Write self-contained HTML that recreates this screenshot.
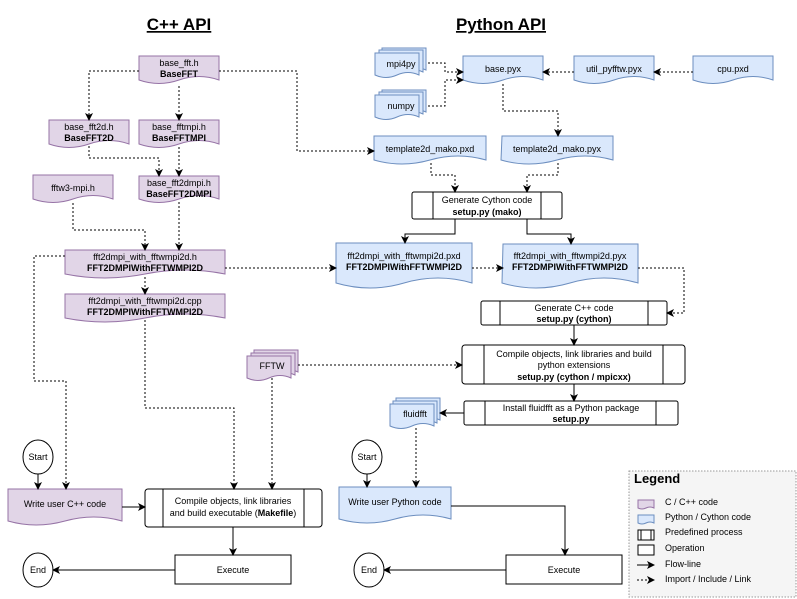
<!DOCTYPE html>
<html><head><meta charset="utf-8"><style>
html,body{margin:0;padding:0;background:#fff;}
svg{display:block;font-family:"Liberation Sans",sans-serif;}
</style></head><body>
<svg width="797" height="599" viewBox="0 0 797 599" xmlns="http://www.w3.org/2000/svg">
<defs>
<marker id="a" markerWidth="8" markerHeight="8" refX="7" refY="4" orient="auto" markerUnits="userSpaceOnUse"><path d="M0,0 L8,4 L0,8 L2,4 z" fill="#000"/></marker>
</defs>
<g font-weight="bold" font-size="17" text-decoration="underline" text-anchor="middle">
<text x="179" y="30">C++ API</text>
<text x="501" y="30">Python API</text>
</g>
<!-- C++ docs -->
<g fill="#e1d5e7" stroke="#9673a6" stroke-width="1">
<path d="M139,56 h80 v24 q-20,-7 -40,0 t-40,0 z"/>
<path d="M49,120 h80 v24 q-20,-7 -40,0 t-40,0 z"/>
<path d="M139,120 h80 v24 q-20,-7 -40,0 t-40,0 z"/>
<path d="M139,176 h80 v23 q-20,-7 -40,0 t-40,0 z"/>
<path d="M33,175 h80 v24 q-20,-7 -40,0 t-40,0 z"/>
<path d="M65,250 h160 v24 q-40,-8 -80,0 t-80,0 z"/>
<path d="M65,294 h160 v24 q-40,-8 -80,0 t-80,0 z"/>
<path d="M8,489 h114 v32 q-28,-8 -57,0 t-57,0 z"/>
<path d="M254,350 h44 v22 q-11,-5 -22,0 t-22,0 z"/>
<path d="M251,353 h44 v22 q-11,-5 -22,0 t-22,0 z"/>
<path d="M247,356 h44 v22 q-11,-5 -22,0 t-22,0 z"/>
</g>
<!-- Python docs -->
<g fill="#dae8fc" stroke="#6c8ebf" stroke-width="1">
<path d="M382,48 h44 v22 q-11,-5 -22,0 t-22,0 z"/>
<path d="M379,50 h44 v22 q-11,-5 -22,0 t-22,0 z"/>
<path d="M375,53 h44 v22 q-11,-5 -22,0 t-22,0 z"/>
<path d="M382,90 h44 v22 q-11,-5 -22,0 t-22,0 z"/>
<path d="M379,92 h44 v22 q-11,-5 -22,0 t-22,0 z"/>
<path d="M375,95 h44 v22 q-11,-5 -22,0 t-22,0 z"/>
<path d="M463,56 h80 v24 q-20,-7 -40,0 t-40,0 z"/>
<path d="M574,56 h80 v24 q-20,-7 -40,0 t-40,0 z"/>
<path d="M693,56 h80 v24 q-20,-7 -40,0 t-40,0 z"/>
<path d="M374,136 h112 v24 q-28,-8 -56,0 t-56,0 z"/>
<path d="M502,136 h111 v24 q-28,-8 -56,0 t-56,0 z"/>
<path d="M336,243 h136 v40 q-34,-10 -68,0 t-68,0 z"/>
<path d="M503,244 h135 v39 q-34,-10 -68,0 t-68,0 z"/>
<path d="M396,398 h44 v22 q-11,-5 -22,0 t-22,0 z"/>
<path d="M393,401 h44 v22 q-11,-5 -22,0 t-22,0 z"/>
<path d="M390,404 h44 v22 q-11,-5 -22,0 t-22,0 z"/>
<path d="M339,487 h112 v32 q-28,-8 -56,0 t-56,0 z"/>
</g>
<!-- process boxes -->
<g fill="#fff" stroke="#000" stroke-width="1">
<rect x="412" y="192" width="150" height="27" rx="2"/><path d="M433,192 v27 M541,192 v27"/>
<rect x="481" y="301" width="186" height="24" rx="2"/><path d="M500,301 v24 M648,301 v24"/>
<rect x="462" y="345" width="223" height="39" rx="3"/><path d="M484,345 v39 M663,345 v39"/>
<rect x="464" y="401" width="214" height="24" rx="2"/><path d="M485,401 v24 M656,401 v24"/>
<rect x="145" y="489" width="177" height="38" rx="3"/><path d="M163,489 v38 M304,489 v38"/>
<rect x="175" y="555" width="116" height="29"/>
<rect x="506" y="555" width="116" height="29"/>
<ellipse cx="38" cy="457" rx="15" ry="17"/>
<ellipse cx="38" cy="570" rx="15" ry="17"/>
<ellipse cx="367" cy="457" rx="15" ry="17"/>
<ellipse cx="369" cy="570" rx="15" ry="17"/>
</g>
<!-- dashed edges -->
<g fill="none" stroke="#000" stroke-width="1" stroke-dasharray="2,2" marker-end="url(#a)">
<path d="M139,71 H89 V120"/>
<path d="M179,86 V120"/>
<path d="M219,71 H297 V151 H374"/>
<path d="M89,146 V158 H159 V176"/>
<path d="M179,147 V176"/>
<path d="M73,203 V230 H145 V250"/>
<path d="M179,202 V250"/>
<path d="M65,256 H34 V381 H66 V489"/>
<path d="M225,268 H336"/>
<path d="M145,277 V294"/>
<path d="M145,320 V408 H234 V489"/>
<path d="M272,378 V489"/>
<path d="M298,365 H462"/>
<path d="M428,63 H445 V72 H463"/>
<path d="M428,106 H445 V80 H463"/>
<path d="M574,72 H543"/>
<path d="M693,72 H654"/>
<path d="M503,84 V111 H558 V136"/>
<path d="M431,163 V175 H455 V192"/>
<path d="M558,163 V175 H527 V192"/>
<path d="M472,268 H503"/>
<path d="M638,268 H684 V313 H667"/>
<path d="M416,428 V487"/>
</g>
<!-- solid edges -->
<g fill="none" stroke="#000" stroke-width="1" marker-end="url(#a)">
<path d="M455,219 V234 H405 V243"/>
<path d="M527,219 V234 H571 V244"/>
<path d="M574,325 V345"/>
<path d="M574,384 V401"/>
<path d="M464,413 H440"/>
<path d="M38,474 V489"/>
<path d="M367,474 V487"/>
<path d="M122,507 H145"/>
<path d="M233,527 V555"/>
<path d="M175,570 H53"/>
<path d="M451,506 H565 V555"/>
<path d="M506,570 H384"/>
</g>
<!-- labels -->
<g font-size="9" text-anchor="middle" fill="#000">
<text x="179" y="66">base_fft.h</text><text x="179" y="77" font-weight="bold">BaseFFT</text>
<text x="89" y="130">base_fft2d.h</text><text x="89" y="141" font-weight="bold">BaseFFT2D</text>
<text x="179" y="130">base_fftmpi.h</text><text x="179" y="141" font-weight="bold">BaseFFTMPI</text>
<text x="179" y="186">base_fft2dmpi.h</text><text x="179" y="197" font-weight="bold">BaseFFT2DMPI</text>
<text x="73" y="191">fftw3-mpi.h</text>
<text x="145" y="260">fft2dmpi_with_fftwmpi2d.h</text><text x="145" y="271" font-weight="bold">FFT2DMPIWithFFTWMPI2D</text>
<text x="145" y="304">fft2dmpi_with_fftwmpi2d.cpp</text><text x="145" y="315" font-weight="bold">FFT2DMPIWithFFTWMPI2D</text>
<text x="272" y="369">FFTW</text>
<text x="65" y="507">Write user C++ code</text>
<text x="233" y="504">Compile objects, link libraries</text>
<text x="233" y="516">and build executable (<tspan font-weight="bold">Makefile</tspan>)</text>
<text x="233" y="573">Execute</text>
<text x="38" y="460">Start</text><text x="38" y="573">End</text>
<text x="401" y="67">mpi4py</text><text x="401" y="109">numpy</text>
<text x="503" y="72">base.pyx</text>
<text x="614" y="72">util_pyfftw.pyx</text>
<text x="733" y="72">cpu.pxd</text>
<text x="430" y="152">template2d_mako.pxd</text>
<text x="557" y="152">template2d_mako.pyx</text>
<text x="487" y="203">Generate Cython code</text><text x="487" y="215" font-weight="bold">setup.py (mako)</text>
<text x="404" y="259">fft2dmpi_with_fftwmpi2d.pxd</text><text x="404" y="270" font-weight="bold">FFT2DMPIWithFFTWMPI2D</text>
<text x="570" y="259">fft2dmpi_with_fftwmpi2d.pyx</text><text x="570" y="270" font-weight="bold">FFT2DMPIWithFFTWMPI2D</text>
<text x="574" y="311">Generate C++ code</text><text x="574" y="322" font-weight="bold">setup.py (cython)</text>
<text x="574" y="357">Compile objects, link libraries and build</text>
<text x="574" y="368">python extensions</text>
<text x="574" y="380" font-weight="bold">setup.py (cython / mpicxx)</text>
<text x="571" y="411">Install fluidfft as a Python package</text><text x="571" y="422" font-weight="bold">setup.py</text>
<text x="415" y="417">fluidfft</text>
<text x="395" y="505">Write user Python code</text>
<text x="564" y="573">Execute</text>
<text x="367" y="460">Start</text><text x="369" y="573">End</text>
</g>
<!-- legend -->
<rect x="629" y="471" width="167" height="126" fill="#f5f5f5" stroke="#999" stroke-dasharray="1.5,1.5"/>
<text x="634" y="483" font-size="13" font-weight="bold">Legend</text>
<path d="M638,500 h16 v8 q-4,-2 -8,0 t-8,0 z" fill="#e1d5e7" stroke="#9673a6"/>
<path d="M638,515 h16 v8 q-4,-2 -8,0 t-8,0 z" fill="#dae8fc" stroke="#6c8ebf"/>
<rect x="638" y="530" width="16" height="10" fill="#fff" stroke="#000"/><path d="M641,530 v10 M651,530 v10" stroke="#000"/>
<rect x="638" y="545" width="16" height="10" fill="#fff" stroke="#000"/>
<path d="M637,565 H654" stroke="#000" marker-end="url(#a)"/>
<path d="M637,580 H654" stroke="#000" stroke-dasharray="2,2" marker-end="url(#a)"/>
<g font-size="9">
<text x="665" y="505">C / C++ code</text>
<text x="665" y="520">Python / Cython code</text>
<text x="665" y="535">Predefined process</text>
<text x="665" y="551">Operation</text>
<text x="665" y="567">Flow-line</text>
<text x="665" y="582">Import / Include / Link</text>
</g>
</svg>
</body></html>
